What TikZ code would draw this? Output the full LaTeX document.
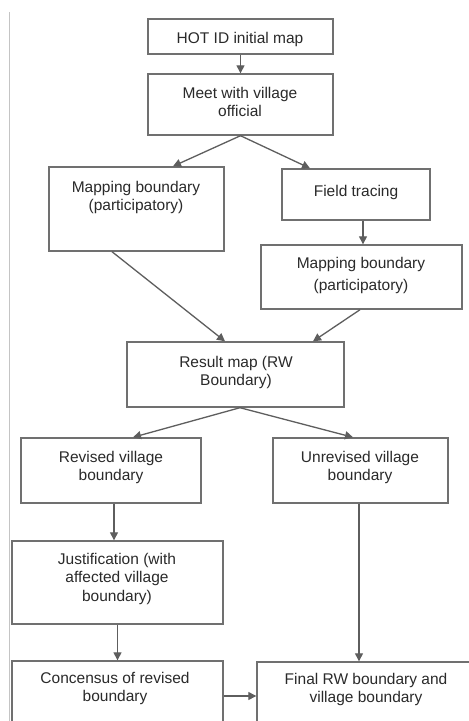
\documentclass[tikz,border=0pt]{standalone}
\usepackage{fontspec}
\setmainfont{Liberation Sans}
\usetikzlibrary{arrows.meta,fit}
\definecolor{boxgray}{HTML}{707070}
\definecolor{arrgray}{HTML}{5E5E5E}
\definecolor{textgray}{HTML}{2A2A2A}
\definecolor{rulegray}{HTML}{C4C4C4}
\begin{document}
\begin{tikzpicture}[x=1pt,y=-1pt,
  box/.style={draw=boxgray, line width=1.4pt, inner sep=0pt},
  txt/.style={anchor=north, align=center, inner sep=0pt, text=textgray,
    font=\fontsize{15.5}{18.5}\selectfont},
  arr/.style={draw=arrgray, line width=1.3pt,
    -{Triangle[length=8pt,width=8pt]}}]
\clip (0,0) rectangle (469,721);
\fill[white] (0,0) rectangle (469,721);
% left rule
\draw[rulegray, line width=1pt] (9,12) -- (9,721);
% boxes
\node[box, fit={(148,19) (333,54)}] (b1) {};
\node[box, fit={(148,74) (333,135)}] (b2) {};
\node[box, fit={(49,167) (224,251)}] (b3) {};
\node[box, fit={(282,169) (430,220)}] (b4) {};
\node[box, fit={(261,245) (462,309)}] (b5) {};
\node[box, fit={(127,342) (344,407)}] (b6) {};
\node[box, fit={(21,438) (201,503)}] (b7) {};
\node[box, fit={(273,438) (448,503)}] (b8) {};
\node[box, fit={(12,541) (223,624)}] (b9) {};
\node[box, fit={(12,661) (223,731)}] (b10) {};
\node[box, fit={(257,662) (476,731)}] (b11) {};
% texts
\node[txt] (t1) at (240,32) {HOT ID initial map};
\node[txt] (t2) at (240,87) {Meet with village\\official};
\node[txt] (t3) at (136,181) {Mapping boundary\\(participatory)};
\node[txt] (t4) at (356,185) {Field tracing};
\node[txt, font=\fontsize{15.5}{22.5}\selectfont] (t5) at (361,257) {Mapping boundary\\(participatory)};
\node[txt] (t6) at (236,356) {Result map (RW\\Boundary)};
\node[txt] (t7) at (111,451) {Revised village\\boundary};
\node[txt] (t8) at (360,451) {Unrevised village\\boundary};
\node[txt] (t9) at (117,553) {Justification (with\\affected village\\boundary)};
\node[txt] (t10) at (115,672) {Concensus of revised\\boundary};
\node[txt] (t11) at (366,673) {Final RW boundary and\\village boundary};
% connectors
\draw[arr] (b1) -- (b2);
\draw[arr] (b2.south) -- ([xshift=36.5pt]b3.north);
\draw[arr] (b2.south) -- ([xshift=-46pt]b4.north);
\draw[arr] ([xshift=7pt]b4.south) -- ([xshift=7pt]b4.south |- b5.north);
\draw[arr] ([xshift=-24.5pt]b3.south) -- ([xshift=-10.5pt]b6.north);
\draw[arr] ([xshift=-1.5pt]b5.south) -- ([xshift=77.5pt]b6.north);
\draw[arr] ([xshift=4.5pt]b6.south) -- ([xshift=22pt]b7.north);
\draw[arr] ([xshift=4.5pt]b6.south) -- ([xshift=-7.5pt]b8.north);
\draw[arr] ([xshift=3pt]b7.south) -- ([xshift=3pt]b7.south |- b9.north);
\draw[arr] (b9.south) -- (b9.south |- b10.north);
\draw[arr] ([xshift=-1.5pt]b8.south) -- ([xshift=-1.5pt]b8.south |- b11.north);
\draw[arr] (b10.east) -- (b10.east -| b11.west);
\end{tikzpicture}
\end{document}
